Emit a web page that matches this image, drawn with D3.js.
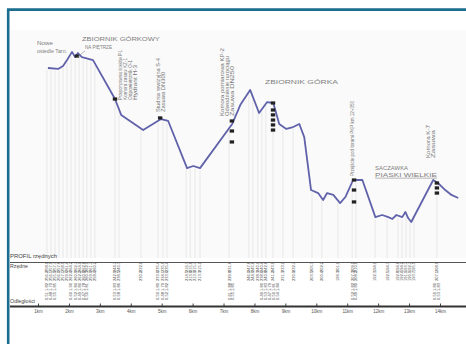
<!DOCTYPE html>
<html><head><meta charset="utf-8">
<script src="https://cdn.jsdelivr.net/npm/d3@7"></script>
<style>html,body{margin:0;padding:0;background:#fff;overflow:hidden;}svg{display:block;}</style>
</head><body>
<svg id="c" width="466" height="344"></svg>
<script>
// ---------- DATA ----------
const profileKm = [1.32,1.65,1.81,1.94,2.10,2.20,2.29,2.42,2.78,3.49,3.69,4.40,4.98,5.21,5.82,6.02,6.24,7.28,7.54,7.86,8.15,8.41,8.61,8.80,9.03,9.25,9.45,9.61,9.83,10.06,10.22,10.35,10.55,10.77,10.94,11.19,11.49,11.91,12.13,12.33,12.46,12.59,12.78,12.88,12.97,13.07,13.78,13.94,14.17,14.37,14.59];
const profileElev = [258.0,257.6,258.9,261.4,264.9,262.7,264.4,262.7,261.4,244.7,237.9,231.4,236.1,235.3,215.1,216.0,215.1,234.0,242.1,248.6,238.7,243.4,243.0,234.0,231.9,232.7,234.0,228.4,205.7,204.4,201.4,204.4,203.6,200.1,202.7,210.0,210.0,194.1,195.0,194.1,193.3,195.0,194.1,196.3,193.7,192.0,210.0,208.7,205.7,203.6,202.3];

const tableKm = [1.29,1.42,1.55,1.68,1.81,1.94,2.07,2.20,2.33,2.46,2.58,2.71,2.84,3.49,3.62,4.33,4.88,5.04,5.17,5.79,5.92,6.08,6.24,7.18,7.82,7.95,8.11,8.24,8.37,8.60,8.92,9.25,9.86,10.18,10.70,11.16,11.28,11.90,12.29,12.64,12.77,12.90,13.03,13.16,13.90];
const rowTerrain = ["258.0","257.9","257.7","257.8","258.9","261.4","264.2","262.7","264.0","262.6","262.1","261.7","260.2","244.7","240.3","232.0","235.4","235.9","235.4","216.3","215.6","215.7","215.1","231.6","247.8","245.8","240.1","240.4","242.6","243.0","233.1","232.7","205.3","202.2","201.1","209.1","210.0","194.1","194.3","194.6","194.2","193.7","192.7","195.5","208.9"];
const rowDesign = ["256.2","256.1","255.9","256.0","257.1","259.6","262.4","260.9","262.2","260.8","260.3","259.9","258.4","242.9","238.5","230.2","233.6","234.1","233.6","214.5","213.8","213.9","213.3","229.8","246.0","244.0","238.3","238.6","240.8","241.2","231.3","230.9","203.5","200.4","199.3","207.3","208.2","192.3","192.5","192.8","192.4","191.9","190.9","193.7","207.1"];

const detailKm = [1.29,1.42,1.55,2.07,2.20,2.33,2.46,2.58,3.49,3.62,4.88,5.04,5.17,7.18,7.30,8.24,8.37,8.50,8.63,8.76,11.16,11.28,13.84,13.97];
const rowDepth = ["1.82","1.79","1.85","1.90","1.84","1.80","1.78","1.81","1.83","1.86","1.80","1.79","1.82","1.88","1.85","1.80","1.83","1.79","1.81","1.84","1.82","1.80","1.80","1.83"];
const rowCover = ["0.51","0.48","0.55","0.60","0.52","0.49","0.47","0.50","0.53","0.58","0.50","0.48","0.52","0.61","0.55","0.49","0.53","0.47","0.50","0.54","0.52","0.49","0.50","0.53"];

const tickKm = [1,2,3,4,5,6,7,8,9,10,11,12,13,14];
const tickLabels = ["1km","2km","3km","4km","5km","6km","7km","8km","9km","10km","11km","12km","13km","14km"];

const markerKm   = [2.26,3.49,4.95,7.27,7.27,7.27,8.60,8.60,8.60,8.60,8.60,8.60,11.22,11.22,11.22,13.90,13.90,13.90];
const markerElev = [263.1,244.7,236.6,235.3,231.0,226.3,243.0,240.0,237.9,235.7,233.6,231.4,210.0,205.7,200.6,208.7,206.6,204.4];

const vLabels = [
  {km:3.72, elev:244.3, lines:["Przepompownia ścieków P-1","Komora zasuw KZ-1","Odpowietrznik O-1","Hydrant H-3"], len:[50,42,40,35]},
  {km:4.95, elev:239.1, lines:["Studnia rewizyjna S-4","Zasuwa DN300"], len:[54,40]},
  {km:7.02, elev:237.4, lines:["Komora pomiarowa KP-2","Odwodnienie rurociągu","Zasuwa DN250"], len:[68,60,50]},
  {km:11.22, elev:211.7, lines:["Przejście pod torami PKP km 12+350"], len:[75]},
  {km:13.68, elev:219.4, lines:["Komora K-7","Zasuwa"], len:[33,28]}
];
const hLabels = [
  {km:0.97, elev:267.9, text:"Nowe", len:16},
  {km:0.97, elev:264.4, text:"osiedle Tarn.", len:30},
  {km:2.42, elev:269.6, text:"ZBIORNIK GÓRKOWY", len:78},
  {km:2.52, elev:266.1, text:"NA PIĘTRZE", len:27},
  {km:8.34, elev:251.1, text:"ZBIORNIK GÓRKA", len:73},
  {km:11.90, elev:214.3, text:"SACZAWKA", len:33},
  {km:11.90, elev:211.3, text:"PIASKI WIELKIE", len:62}
];

// ---------- DRAW ----------
const svg = d3.select("#c");
const font = "'Liberation Sans', Arial, sans-serif";
const x = d3.scaleLinear().domain([1,14]).range([38,440]);
const y = d3.scaleLinear().domain([180,270]).range([250,40]);

svg.append("rect").attr("x",0).attr("y",0).attr("width",466).attr("height",344).attr("fill","#fff");
svg.append("rect").attr("x",10).attr("y",30).attr("width",456).attr("height",228).attr("fill","#fafafa");

function elevAt(k){
  const i = d3.bisectLeft(profileKm,k);
  if(i<=0) return profileElev[0];
  if(i>=profileKm.length) return profileElev[profileElev.length-1];
  const t=(k-profileKm[i-1])/(profileKm[i]-profileKm[i-1]);
  return profileElev[i-1]+t*(profileElev[i]-profileElev[i-1]);
}

// faint gridlines
svg.append("g").selectAll("line").data(tableKm).join("line")
  .attr("x1",d=>x(d)).attr("x2",d=>x(d))
  .attr("y1",d=>y(elevAt(d))+2).attr("y2",258)
  .attr("stroke","#e8e8e8").attr("stroke-width",1);

// profile line
const pts = profileKm.map((k,i)=>[k,profileElev[i]]);
svg.append("path").datum(pts)
  .attr("d", d3.line().x(d=>x(d[0])).y(d=>y(d[1])))
  .attr("fill","none").attr("stroke","#6062aa").attr("stroke-width",1.8).attr("stroke-linejoin","round");

// markers
svg.append("g").selectAll("rect").data(markerKm).join("rect")
  .attr("x",(d,i)=>x(d)-2.2).attr("y",(d,i)=>y(markerElev[i])-1.6)
  .attr("width",4.4).attr("height",3.2).attr("fill","#222");

// vertical labels
const vg = svg.append("g").attr("font-family",font).attr("font-size",4.5).attr("fill","#777");
vLabels.forEach(l=>{
  l.lines.forEach((t,j)=>{
    vg.append("text")
      .attr("transform",`translate(${x(l.km)+j*5},${y(l.elev)}) rotate(-90)`)
      .attr("textLength",l.len[j]).attr("lengthAdjust","spacingAndGlyphs")
      .text(t);
  });
});
// horizontal labels
const hg = svg.append("g").attr("font-family",font).attr("font-size",5).attr("fill","#808080");
hLabels.forEach(l=>{
  hg.append("text").attr("x",x(l.km)).attr("y",y(l.elev))
    .attr("textLength",l.len).attr("lengthAdjust","spacingAndGlyphs").text(l.text);
});
// leaders
svg.append("line").attr("x1",x(2.52)).attr("y1",y(265.3)).attr("x2",x(2.26)).attr("y2",y(262.5)).attr("stroke","#888").attr("stroke-width",0.6);
svg.append("line").attr("x1",x(11.90)).attr("y1",y(210.8)).attr("x2",x(13.90)).attr("y2",y(210.8)).attr("stroke","#888").attr("stroke-width",0.6);

// table
const tg = svg.append("g").attr("font-family",font).attr("fill","#444");
tg.append("text").attr("x",10).attr("y",258).attr("font-size",4.5).attr("textLength",47).attr("lengthAdjust","spacingAndGlyphs").text("PROFIL rzędnych");
tg.append("text").attr("x",10).attr("y",268).attr("font-size",4.5).attr("textLength",18).attr("lengthAdjust","spacingAndGlyphs").text("Rzędne");
tg.append("text").attr("x",10).attr("y",303).attr("font-size",4.5).attr("textLength",25).attr("lengthAdjust","spacingAndGlyphs").text("Odległości");
svg.append("line").attr("x1",10).attr("x2",466).attr("y1",262.5).attr("y2",262.5).attr("stroke","#555").attr("stroke-width",1);

function col(kms, vals, cy){
  tg.append("g").selectAll("text").data(kms).join("text")
    .attr("transform",(d)=>`translate(${x(d)+1.4},${cy}) rotate(-90)`)
    .attr("text-anchor","middle").attr("font-size",4)
    .text((d,i)=>vals[i]);
}
col(tableKm,rowTerrain,267);
col(tableKm,rowDesign,276);
col(detailKm,rowDepth,287);
col(detailKm,rowCover,296);

// axis
const ax = svg.append("g").attr("transform","translate(0,306.5)")
  .call(d3.axisBottom(x).tickValues(tickKm).tickFormat((d,i)=>tickLabels[i]).tickSize(-3).tickPadding(3));
ax.select(".domain").remove();
ax.selectAll(".tick line").attr("stroke","#444");
ax.selectAll("text").attr("font-family",font).attr("font-size",4.5).attr("fill","#555");
svg.append("line").attr("x1",10).attr("x2",466).attr("y1",306.5).attr("y2",306.5).attr("stroke","#333").attr("stroke-width",2);

// border (top and left only)
svg.append("path").attr("d","M8.2,344 L8.2,9.6 L466,9.6")
  .attr("fill","none").attr("stroke","#1b6e8f").attr("stroke-width",2.6);
</script>
</body></html>
